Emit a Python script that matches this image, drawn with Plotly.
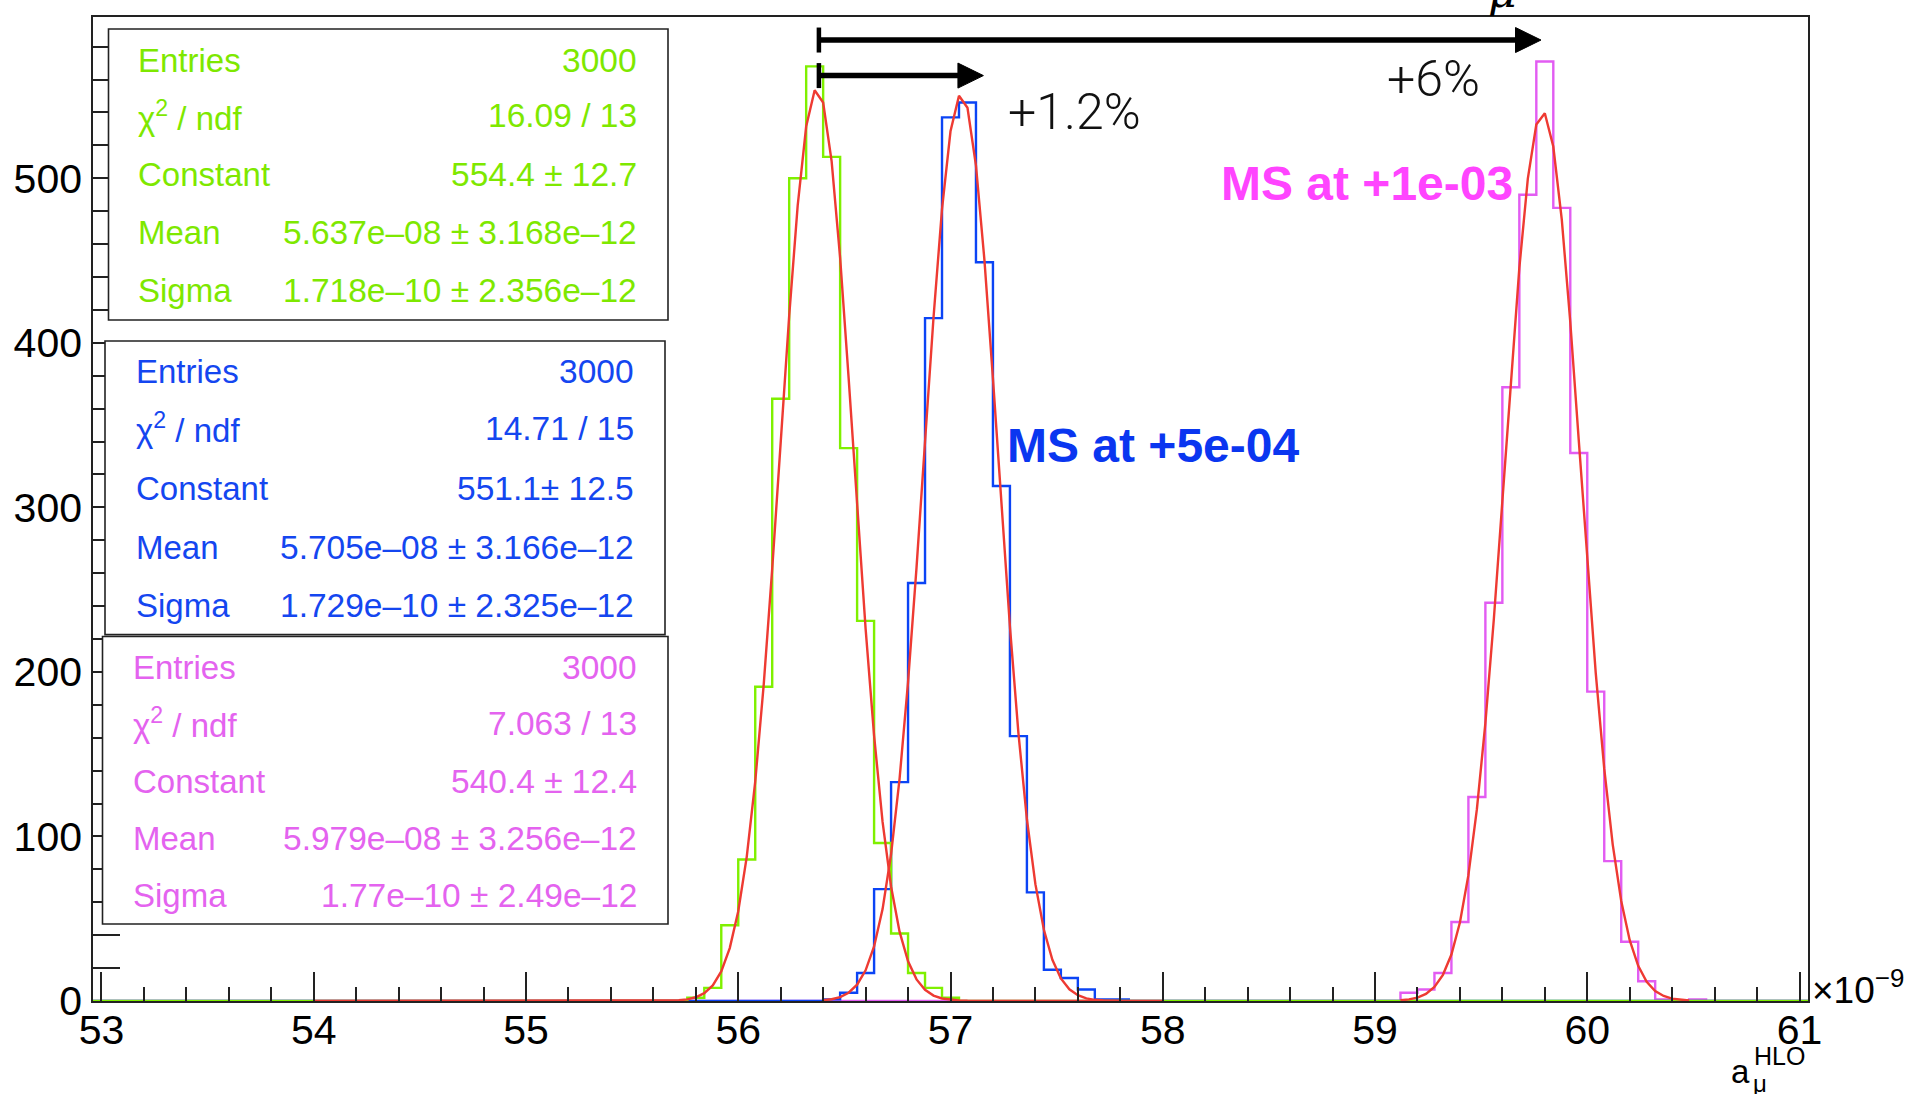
import numpy as np
import plotly.graph_objects as go

# ---------------- data (x in units of 1e-9) ----------------
bin_width = 0.08
x_lo, x_hi = 52.96, 61.04          # histogram / axis range (101 bins centred 53.00 ... 61.00)
y_hi = 598

green_centers = [55.80, 55.88, 55.96, 56.04, 56.12, 56.20, 56.28, 56.36, 56.44, 56.52,
                 56.60, 56.68, 56.76, 56.84, 56.92, 57.00]
green_counts = [2, 8, 46, 86, 191, 366, 500, 568, 513, 336, 231, 96, 41, 17, 8, 2]

blue_centers = [56.44, 56.52, 56.60, 56.68, 56.76, 56.84, 56.92, 57.00, 57.08, 57.16,
                57.24, 57.32, 57.40, 57.48, 57.56, 57.64, 57.72, 57.80]
blue_counts = [1, 5, 17, 68, 133, 254, 415, 537, 546, 449, 313, 161, 66, 19, 14, 7, 1, 1]

magenta_centers = [59.16, 59.24, 59.32, 59.40, 59.48, 59.56, 59.64, 59.72, 59.80, 59.88,
                   59.96, 60.04, 60.12, 60.20, 60.28, 60.36, 60.44, 60.52]
magenta_counts = [5, 7, 17, 48, 124, 242, 373, 490, 571, 482, 333, 188, 85, 36, 12, 1, 0, 1]

# Gaussian fit parameters as printed in the stat boxes (green, blue, magenta)
fit_constant = [554.4, 551.1, 540.4]
fit_mean = [56.37, 57.05, 59.79]
fit_sigma = [0.1718, 0.1729, 0.177]
fit_lo = [54.0, 56.40, 59.12]
fit_hi = [58.0, 57.80, 60.48]

x_ticks = [53, 54, 55, 56, 57, 58, 59, 60, 61]
y_ticks = [0, 100, 200, 300, 400, 500]

stat_labels = ["Entries", "χ<sup>2</sup> / ndf", "Constant", "Mean", "Sigma"]
green_stats = ["3000", "16.09 / 13", "554.4 ± 12.7", "5.637e–08 ± 3.168e–12", "1.718e–10 ± 2.356e–12"]
blue_stats = ["3000", "14.71 / 15", "551.1± 12.5", "5.705e–08 ± 3.166e–12", "1.729e–10 ± 2.325e–12"]
magenta_stats = ["3000", "7.063 / 13", "540.4 ± 12.4", "5.979e–08 ± 3.256e–12", "1.77e–10 ± 2.49e–12"]

# ---------------- styling ----------------
W, H = 1910, 1094
L, R, T, B = 93, 102, 17, 93
PW, PH = W - L - R, H - T - B
FONT = "Liberation Sans, Arial, Helvetica, sans-serif"

GREEN_LINE, BLUE_LINE, MAG_LINE = "#7ff000", "#0b44f5", "#e25cf2"
GREEN_TXT, BLUE_TXT, MAG_TXT = "#7ee800", "#1446f0", "#e463ef"
RED = "#ee3a32"


def px(xp):
    return (xp - L) / PW


def py(yp):
    return (H - B - yp) / PH


n_bins = int(round((x_hi - x_lo) / bin_width))
edges = x_lo + bin_width * np.arange(n_bins + 1)


def step_xy(centers, counts):
    full = np.zeros(n_bins)
    for c, v in zip(centers, counts):
        full[int(round((c - x_lo) / bin_width - 0.5))] = v
    return edges, np.append(full, full[-1])


fig = go.Figure()

for centers, counts, col in [(magenta_centers, magenta_counts, MAG_LINE),
                             (blue_centers, blue_counts, BLUE_LINE),
                             (green_centers, green_counts, GREEN_LINE)]:
    xs, ys = step_xy(centers, counts)
    fig.add_trace(go.Scatter(x=xs, y=ys, mode="lines", line=dict(color=col, width=2.4, shape="hv"),
                             hoverinfo="skip", showlegend=False))

for c, m, s, a, b in zip(fit_constant, fit_mean, fit_sigma, fit_lo, fit_hi):
    xs = np.arange(a, b + 1e-9, 0.04)
    ys = c * np.exp(-0.5 * ((xs - m) / s) ** 2)
    fig.add_trace(go.Scatter(x=xs, y=ys, mode="lines", line=dict(color=RED, width=2.4),
                             hoverinfo="skip", showlegend=False))

shapes = []
annotations = []

# stat boxes: (left, top, right, bottom) in pixels, text rows
boxes = [
    ((108.5, 29, 668, 320), GREEN_TXT, green_stats, [60, 116, 174, 232, 290], 136, 639),
    ((105, 341, 665, 634.6), BLUE_TXT, blue_stats, [372, 428, 488, 547, 605], 134, 636),
    ((102.5, 636.5, 668, 924), MAG_TXT, magenta_stats, [667, 723, 781, 838, 895], 131, 639),
]
for (x0, y0, x1, y1), col, vals, rows, lx, rx in boxes:
    shapes.append(dict(type="rect", xref="paper", yref="paper", x0=px(x0), x1=px(x1), y0=py(y1), y1=py(y0),
                       fillcolor="white", line=dict(color="#222", width=1.6), layer="above"))
    for lab, val, yr in zip(stat_labels, vals, rows):
        annotations.append(dict(xref="paper", yref="paper", x=px(lx), y=py(yr), xanchor="left", yanchor="middle",
                                text=lab, showarrow=False, font=dict(family=FONT, size=33, color=col)))
        annotations.append(dict(xref="paper", yref="paper", x=px(rx), y=py(yr), xanchor="right", yanchor="middle",
                                text=val, showarrow=False, font=dict(family=FONT, size=33.5, color=col)))

# arrows (data coordinates)
def arrow(x_tail, x_tip, yc, head_len=0.12, half_h=7.6, bar_half=7.6):
    shapes.append(dict(type="line", xref="x", yref="y", x0=x_tail, x1=x_tip - head_len * 0.5, y0=yc, y1=yc,
                       line=dict(color="black", width=5.5), layer="above"))
    shapes.append(dict(type="path", xref="x", yref="y",
                       path=f"M {x_tip - head_len},{yc + half_h} L {x_tip},{yc} L {x_tip - head_len},{yc - half_h} Z",
                       fillcolor="black", line=dict(color="black", width=1), layer="above"))
    shapes.append(dict(type="line", xref="x", yref="y", x0=x_tail, x1=x_tail, y0=yc - bar_half, y1=yc + bar_half,
                       line=dict(color="black", width=4.5), layer="above"))


arrow(56.38, 59.782, 584.0)
arrow(56.38, 57.155, 562.4)

text_items = [
    ("+1.2%", 1006, 112, "left", 50, "#111", 300),
    ("+6%", 1385, 79, "left", 50, "#111", 300),
]
for txt, xp, yp, anc, size, col, wt in text_items:
    annotations.append(dict(xref="paper", yref="paper", x=px(xp), y=py(yp), xanchor=anc, yanchor="middle",
                            text=txt, showarrow=False,
                            font=dict(family="Roboto, Liberation Sans, Arial", size=size, color=col, weight=wt)))

annotations.append(dict(xref="paper", yref="paper", x=px(1515), y=py(184), xanchor="right", yanchor="middle",
                        text="<b>MS at +1e-03</b>", showarrow=False,
                        font=dict(family=FONT, size=48, color="#ff44ff")))
annotations.append(dict(xref="paper", yref="paper", x=px(1005), y=py(445), xanchor="left", yanchor="middle",
                        text="<b>MS at +5e-04</b>", showarrow=False,
                        font=dict(family=FONT, size=48, color="#0a36f0")))

# exponent label and axis title
annotations.append(dict(xref="paper", yref="paper", x=px(1810), y=py(987), xanchor="left", yanchor="middle",
                        text="×10<sup>−9</sup>", showarrow=False, font=dict(family=FONT, size=37, color="black")))
annotations.append(dict(xref="paper", yref="paper", x=px(1729), y=py(1071), xanchor="left", yanchor="middle",
                        text="a", showarrow=False, font=dict(family=FONT, size=33, color="black")))
annotations.append(dict(xref="paper", yref="paper", x=px(1752), y=py(1056), xanchor="left", yanchor="middle",
                        text="HLO", showarrow=False, font=dict(family=FONT, size=25, color="black")))
annotations.append(dict(xref="paper", yref="paper", x=px(1751), y=py(1083), xanchor="left", yanchor="middle",
                        text="μ", showarrow=False, font=dict(family=FONT, size=24, color="black")))
# cut-off glyph at the very top of the picture
annotations.append(dict(xref="paper", yref="paper", x=px(1502), y=py(-9), xanchor="center", yanchor="middle",
                        text="<i>μ</i>", showarrow=False, font=dict(family="DejaVu Serif, serif", size=44, color="black")))

fig.update_layout(
    width=W, height=H,
    margin=dict(l=L, r=R, t=T, b=B, autoexpand=False),
    paper_bgcolor="white", plot_bgcolor="white",
    showlegend=False,
    shapes=shapes,
    annotations=annotations,
    xaxis=dict(range=[x_lo, x_hi], tickvals=x_ticks, ticktext=[str(v) for v in x_ticks],
               ticks="inside", ticklen=29, tickwidth=1.5, tickcolor="#222",
               minor=dict(ticks="inside", dtick=0.2, tick0=53, ticklen=14, tickwidth=1.5, tickcolor="#222"),
               showgrid=False, zeroline=False, showline=True, mirror=True, linecolor="#222", linewidth=1.6,
               tickfont=dict(family=FONT, size=41, color="black"), ticklabelstandoff=-8, automargin=False),
    yaxis=dict(range=[0, y_hi], tickvals=y_ticks, ticktext=[str(v) for v in y_ticks],
               ticks="inside", ticklen=52, tickwidth=1.5, tickcolor="#222",
               minor=dict(ticks="inside", dtick=20, tick0=0, ticklen=27, tickwidth=1.5, tickcolor="#222"),
               showgrid=False, zeroline=False, showline=True, mirror=True, linecolor="#222", linewidth=1.6,
               tickfont=dict(family=FONT, size=41, color="black"), ticklabelstandoff=1, automargin=False),
)

fig.write_html("out.html")
